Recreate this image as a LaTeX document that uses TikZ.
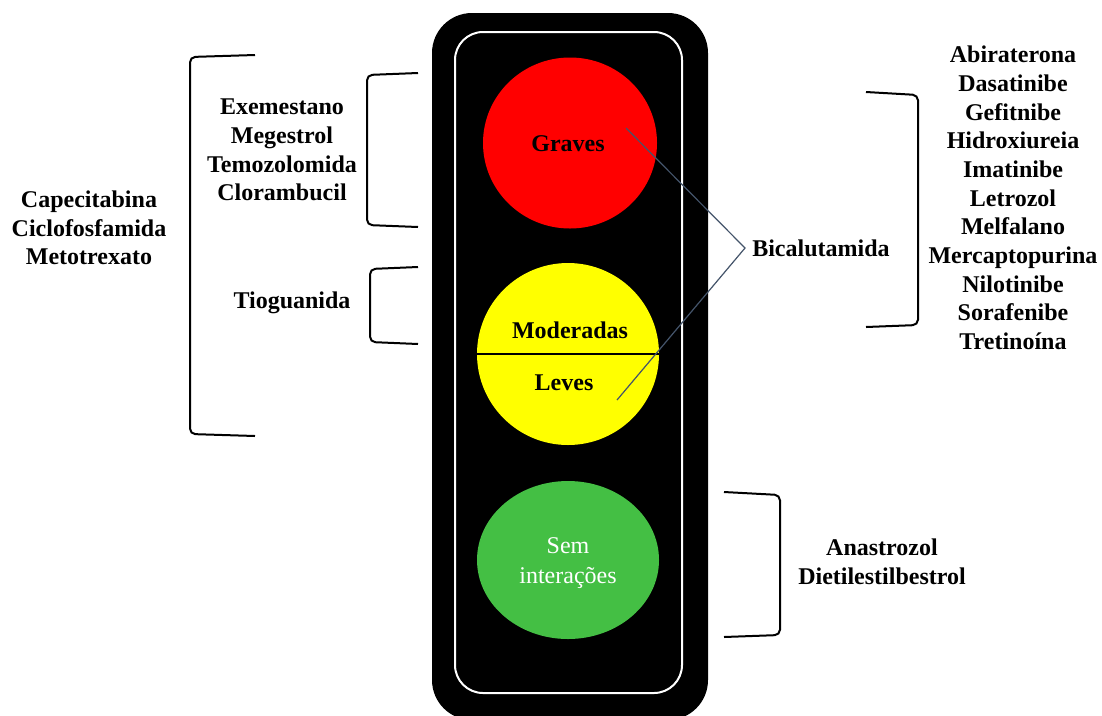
\documentclass[tikz,border=0pt]{standalone}
\usepackage{fontspec}
\usetikzlibrary{shapes.geometric}
\setmainfont{Liberation Serif}[BoldFont={Liberation Serif Bold}, ItalicFont={Liberation Serif Italic}]
\definecolor{conn}{HTML}{44546A}
\definecolor{lgreen}{HTML}{44BF44}
\definecolor{lyellow}{HTML}{FFFF00}
\definecolor{lred}{HTML}{FF0000}
\tikzset{
  lbl/.style={font=\fontsize{18}{21.5}\selectfont\bfseries, align=center, inner sep=0pt},
  brk/.style={draw=black, line width=1.5pt, rounded corners=4pt},
  light/.style={inner sep=0pt, draw=none},
  conline/.style={draw=conn, line width=0.9pt},
}
\begin{document}
\begin{tikzpicture}[x=0.75pt,y=-0.75pt]
\useasboundingbox (0,0) rectangle (1102,715);
% housing
\fill[black, rounded corners=30pt] (432,13) rectangle (708,720);
\draw[white, line width=1.5pt, rounded corners=21pt] (455,32) rectangle (682,693);
% lights
\node[light, ellipse, fill=lred, minimum width=174*0.75pt, minimum height=171*0.75pt] (red) at (570,143) {};
\node[light, circle, fill=lyellow, minimum size=182*0.75pt] (yel) at (568,354) {};
\node[light, ellipse, fill=lgreen, minimum width=182*0.75pt, minimum height=158*0.75pt] (grn) at (568,560) {};
\draw[black, line width=1.6pt] (yel.west) -- (yel.east);
\node[lbl] (graves) at (568,144) {Graves};
\node[lbl] (mod) at (570,330) {Moderadas};
\node[lbl] (lev) at (564,383) {Leves};
\node[font=\fontsize{18}{22.5}\selectfont, text=white, align=center, inner sep=0pt] (sem) at (568,563) {Sem\\interações};
% left labels
\node[lbl] (cap) at (89,228) {Capecitabina\\Ciclofosfamida\\Metotrexato};
\node[lbl] (exe) at (282,150) {Exemestano\\Megestrol\\Temozolomida\\Clorambucil};
\node[lbl] (tio) at (292,303) {Tioguanida};
% right labels
\node[lbl, anchor=west] (bic) at (752,248) {Bicalutamida};
\node[lbl] (list) at (1013,198) {Abiraterona\\Dasatinibe\\Gefitnibe\\Hidroxiureia\\Imatinibe\\Letrozol\\Melfalano\\Mercaptopurina\\Nilotinibe\\Sorafenibe\\Tretinoína};
\node[lbl] (ana) at (882,562) {Anastrozol\\Dietilestilbestrol};
% brackets
\draw[brk] (255,55) -- (190,57) -- (190,434) -- (255,436);
\draw[brk] (418,73) -- (367,75) -- (367,225) -- (418,227);
\draw[brk] (418,267) -- (370,269) -- (370,342) -- (418,344);
\draw[brk] (866,92) -- (918,95) -- (918,325) -- (866,327);
\draw[brk] (724,492) -- (780,495) -- (780,635) -- (724,637);
% connectors
\coordinate (gp) at (626,128);
\coordinate (lp) at (617,400);
\coordinate (apex) at (745,248);
\draw[conline] (gp) -- (apex) -- (lp);
\end{tikzpicture}
\end{document}
